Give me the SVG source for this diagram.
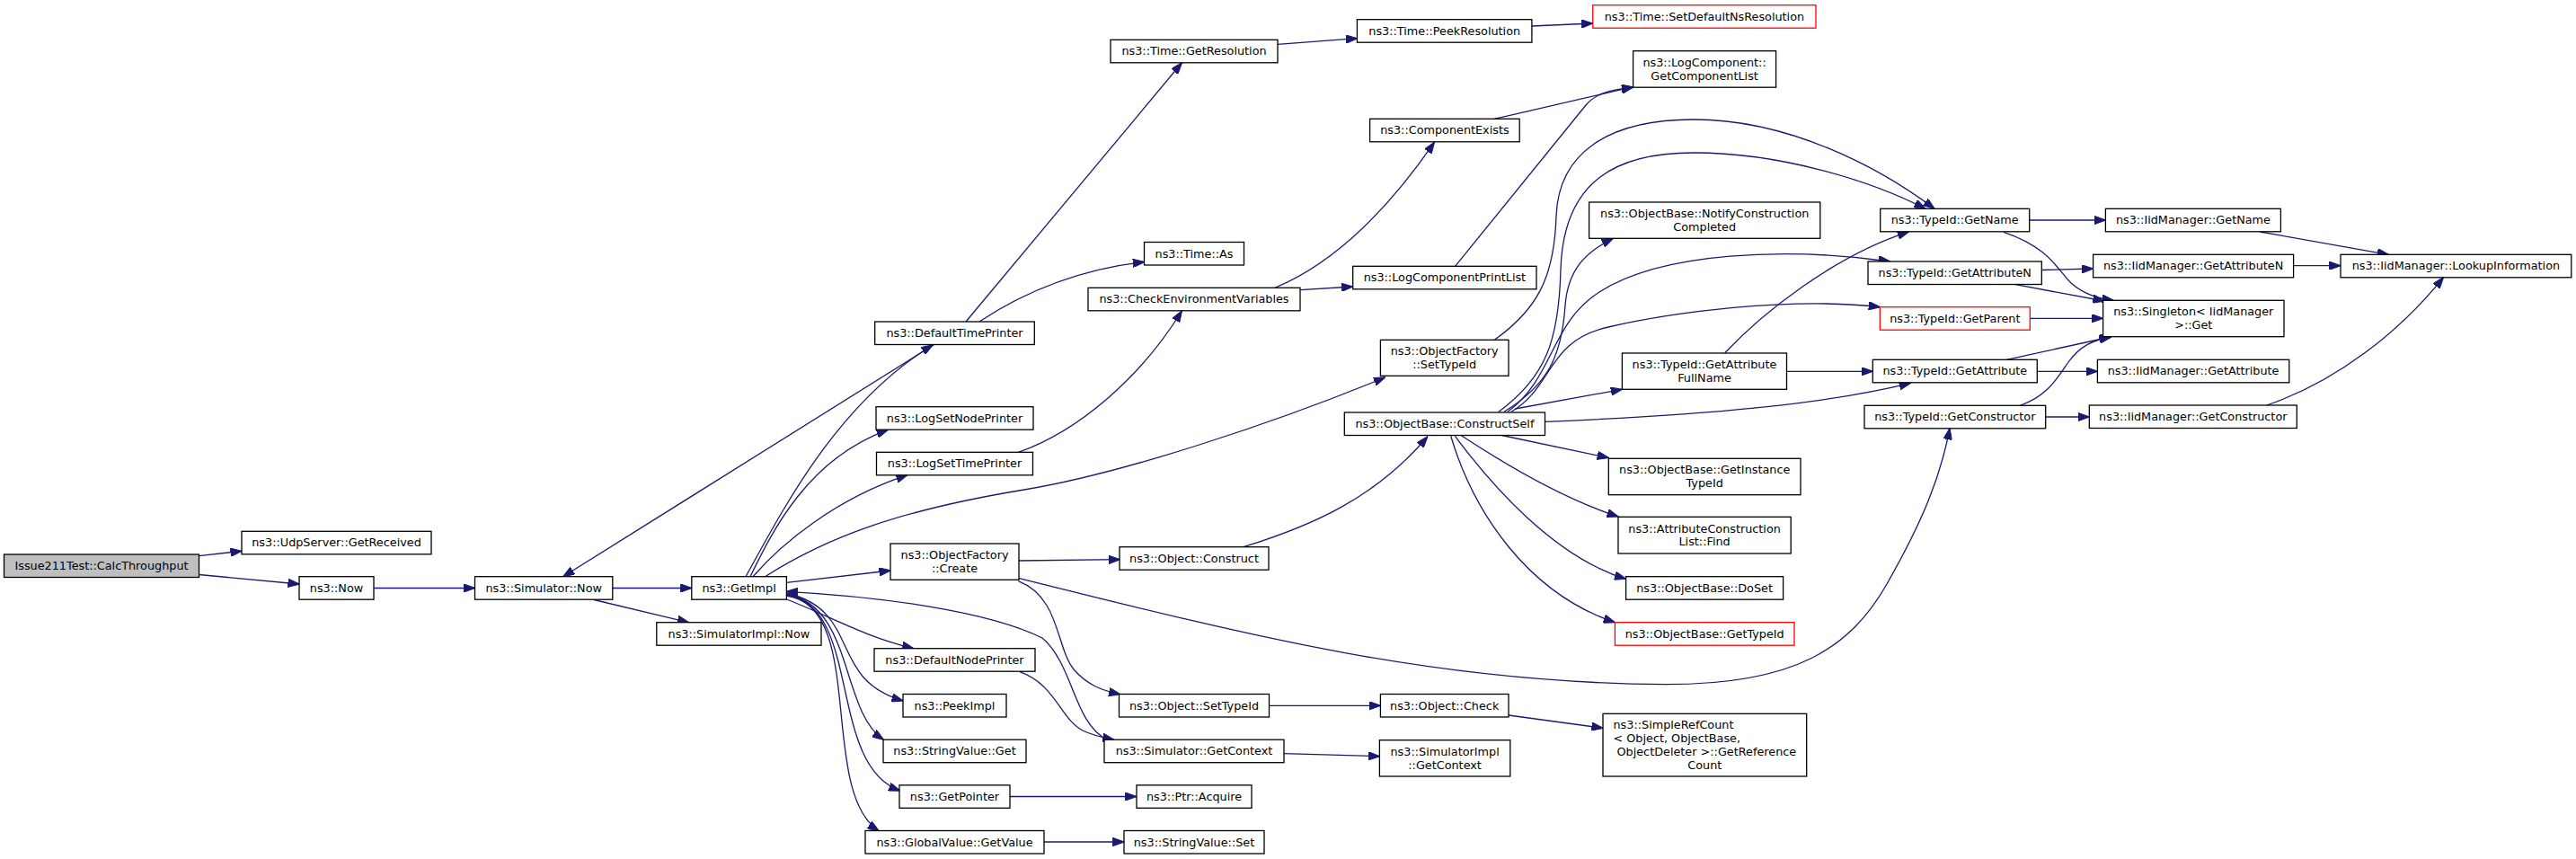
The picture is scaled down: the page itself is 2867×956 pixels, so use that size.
<svg xmlns="http://www.w3.org/2000/svg" width="2867" height="956" viewBox="0 0 2867 956">
<style>
.node rect{fill:#fff;stroke:#000;stroke-width:1.3}
.root rect{fill:#bfbfbf}
.red rect{stroke:#ff0000}
text{font-family:"DejaVu Sans","Noto Sans",sans-serif;font-size:12.8px;text-anchor:middle;fill:#000}
text.l{text-anchor:start}
.edges path{fill:none;stroke:#191970;stroke-width:1.3;marker-end:url(#arr)}
</style>
<defs>
<marker id="arr" markerUnits="userSpaceOnUse" viewBox="0 0 13 9.4" refX="12.6" refY="4.7" markerWidth="13" markerHeight="9.4" orient="auto">
<path d="M0,0L13,4.7L0,9.4z" fill="#191970" stroke="#191970" stroke-width="1"/>
</marker>
</defs>
<rect width="2867" height="956" fill="#fff"/>
<g class="edges" id="edges">
<path d="M221.3,618.7L269,613.3"/>
<path d="M221.3,639.5L333,650"/>
<path d="M416,654.5L528.5,654.5"/>
<path d="M681.8,654.5L769.8,654.5"/>
<path d="M661,667.5L766.5,692.7"/>
<path d="M1040,383.3L626.7,641.7"/>
<path d="M830,641.7C870,570 930,450 1038,384"/>
<path d="M835,641.7C860,590 900,510 988.3,478.3"/>
<path d="M838,641.7C870,605 930,555 1010,528.7"/>
<path d="M851.5,641.7C920,598 1000,568 1140,545C1250,527 1420,470 1541.6,420"/>
<path d="M875.4,648.3L991,635"/>
<path d="M875.4,667C920,684 960,708 1016.7,721.7"/>
<path d="M875.4,660C960,680 920,755 1005,780"/>
<path d="M875.4,661C950,675 935,790 983.3,823.3"/>
<path d="M875.4,662C960,675 920,850 1001.7,880"/>
<path d="M875.4,663C965,675 910,880 978.3,925"/>
<path d="M1232,823C1195,805 1195,740 1160,710C1100,680 980,664 875.4,658.3"/>
<path d="M1135,747.7C1175,762 1180,800 1205,813C1215,818 1228,821 1240,823.3"/>
<path d="M1134,624L1246.5,622.7"/>
<path d="M1133.3,646.7C1180,665 1175,720 1195,745C1210,762 1225,768 1246.7,772.7"/>
<path d="M1133.3,643.3C1400,710 1600,760 1853,761.7C2000,762 2060,720 2100,650C2140,580 2160,530 2170,476.7"/>
<path d="M1384,608.7C1460,585 1530,555 1588.8,486"/>
<path d="M1413,785.3L1536.4,785.3"/>
<path d="M1679,796L1784,810.3"/>
<path d="M1428.3,838.7L1535.4,841.7"/>
<path d="M1124,886.5L1264.7,886.5"/>
<path d="M1162,937L1251,937"/>
<path d="M1671.4,484.5L1790.3,509.5"/>
<path d="M1626.5,484.7C1680,520 1740,555 1801,575"/>
<path d="M1619.4,485.3C1660,540 1730,620 1809.6,644.3"/>
<path d="M1614.7,485.3C1640,570 1700,660 1797.4,692.7"/>
<path d="M1686.3,455L1805.4,433.3"/>
<path d="M1719.5,469.3C1900,462 2030,450 2126.4,426.3"/>
<path d="M1682,458.3C1730,430 1720,380 1790,364C1860,348 1990,330 2092.3,341.7"/>
<path d="M1678,458.3C1730,420 1725,360 1780,325C1850,280 1990,275 2103.4,291"/>
<path d="M1674,458.3C1720,430 1738,400 1742,340C1745,300 1765,280 1795.4,265.3"/>
<path d="M1668,458.3C1720,420 1735,380 1737,300C1740,200 1800,170 1885,170C1980,170 2080,200 2143,232.3"/>
<path d="M1663.3,378.3C1710,345 1730,310 1732,240C1735,170 1790,133 1885,133C1990,133 2090,185 2153,232.3"/>
<path d="M1919.7,392.7C1960,350 2040,285 2124.5,257.8"/>
<path d="M1988.6,413.3L2084.3,413.3"/>
<path d="M1418.9,320.3C1480,295 1540,240 1596.4,158.3"/>
<path d="M1447.2,322.7L1505.7,319"/>
<path d="M1663.3,132.3L1817.6,96.7"/>
<path d="M1619.3,296.7L1765,117C1775,105 1790,100 1817.6,97.2"/>
<path d="M1133.3,503.3C1200,480 1270,420 1315.3,346"/>
<path d="M1075,358L1315.3,70"/>
<path d="M1090.3,357.7C1140,325 1200,300 1273.5,291.5"/>
<path d="M1422,49.3L1510.4,42.7"/>
<path d="M1705,29L1772.8,26"/>
<path d="M2258.7,245L2343.4,245"/>
<path d="M2230,258.3C2280,275 2290,300 2305,315C2320,328 2335,332 2352,334.3"/>
<path d="M2272.3,300.5L2329.6,299"/>
<path d="M2243.3,316.7L2342,335"/>
<path d="M2259.3,354.3L2340.6,354.3"/>
<path d="M2233.3,400.3L2349,375"/>
<path d="M2267.3,413.3L2334.4,413.3"/>
<path d="M2248.3,451.3C2280,440 2290,420 2302,403C2315,385 2330,378 2350,375"/>
<path d="M2276.7,464L2325.3,464"/>
<path d="M2515.4,258L2658.3,283.3"/>
<path d="M2552.6,295.7L2605,295.7"/>
<path d="M2522.6,451C2600,425 2670,370 2719.4,308.8"/>
</g>
<g id="n_calc" class="node root"><rect x="4.5" y="617" width="217" height="25.5"/><text x="113" y="634">Issue211Test::CalcThroughput</text></g>
<g id="n_udp" class="node"><rect x="269" y="591.3" width="211" height="25.5"/><text x="374.5" y="608.3">ns3::UdpServer::GetReceived</text></g>
<g id="n_now" class="node"><rect x="333" y="641.7" width="83" height="25.5"/><text x="374.5" y="658.7">ns3::Now</text></g>
<g id="n_simnow" class="node"><rect x="528.5" y="641.7" width="153.3" height="25.5"/><text x="605.2" y="658.7">ns3::Simulator::Now</text></g>
<g id="n_getimpl" class="node"><rect x="769.8" y="641.7" width="105.6" height="25.5"/><text x="822.6" y="658.7">ns3::GetImpl</text></g>
<g id="n_simimplnow" class="node"><rect x="730.8" y="692.7" width="183.2" height="25.5"/><text x="822.4" y="709.7">ns3::SimulatorImpl::Now</text></g>
<g id="n_ofcreate" class="node"><rect x="991" y="605" width="143" height="40.3"/><text x="1062.5" y="622">ns3::ObjectFactory</text><text x="1062.5" y="636.8">::Create</text></g>
<g id="n_construct" class="node"><rect x="1246" y="608.7" width="166" height="25.5"/><text x="1329" y="625.7">ns3::Object::Construct</text></g>
<g id="n_logsettime" class="node"><rect x="975.5" y="503.3" width="174" height="25.5"/><text x="1062.5" y="520.3">ns3::LogSetTimePrinter</text></g>
<g id="n_defnode" class="node"><rect x="973" y="721.7" width="179" height="25.5"/><text x="1062.5" y="738.7">ns3::DefaultNodePrinter</text></g>
<g id="n_peek" class="node"><rect x="1005" y="772.5" width="115" height="25.5"/><text x="1062.5" y="789.5">ns3::PeekImpl</text></g>
<g id="n_svget" class="node"><rect x="983" y="823.2" width="159" height="25.5"/><text x="1062.5" y="840.2">ns3::StringValue::Get</text></g>
<g id="n_getptr" class="node"><rect x="1001" y="873.8" width="123" height="25.5"/><text x="1062.5" y="890.8">ns3::GetPointer</text></g>
<g id="n_gvget" class="node"><rect x="963" y="924.5" width="199" height="25.5"/><text x="1062.5" y="941.5">ns3::GlobalValue::GetValue</text></g>
<g id="n_objsettypeid" class="node"><rect x="1245.5" y="772.5" width="167" height="25.5"/><text x="1329" y="789.5">ns3::Object::SetTypeId</text></g>
<g id="n_simgetctx" class="node"><rect x="1229" y="823.2" width="200" height="25.5"/><text x="1329" y="840.2">ns3::Simulator::GetContext</text></g>
<g id="n_ptracq" class="node"><rect x="1265" y="873.8" width="128" height="25.5"/><text x="1329" y="890.8">ns3::Ptr::Acquire</text></g>
<g id="n_svset" class="node"><rect x="1251" y="924.5" width="156" height="25.5"/><text x="1329" y="941.5">ns3::StringValue::Set</text></g>
<g id="n_getres" class="node"><rect x="1236" y="44.3" width="186" height="25.5"/><text x="1329" y="61.3">ns3::Time::GetResolution</text></g>
<g id="n_timeas" class="node"><rect x="1273.5" y="269.5" width="111" height="25.5"/><text x="1329" y="286.5">ns3::Time::As</text></g>
<g id="n_checkenv" class="node"><rect x="1211" y="320.3" width="236" height="25.5"/><text x="1329" y="337.3">ns3::CheckEnvironmentVariables</text></g>
<g id="n_deftime" class="node"><rect x="973.7" y="358" width="177.6" height="25.5"/><text x="1062.5" y="375">ns3::DefaultTimePrinter</text></g>
<g id="n_logsetnode" class="node"><rect x="975" y="452.7" width="175" height="25.5"/><text x="1062.5" y="469.7">ns3::LogSetNodePrinter</text></g>
<g id="n_peekres" class="node"><rect x="1510.4" y="21.7" width="194.5" height="25.5"/><text x="1607.7" y="38.7">ns3::Time::PeekResolution</text></g>
<g id="n_setdefns" class="node red"><rect x="1772.8" y="5.7" width="248.2" height="25.5"/><text x="1896.9" y="22.7">ns3::Time::SetDefaultNsResolution</text></g>
<g id="n_getcomplist" class="node"><rect x="1817.6" y="56.7" width="159" height="40.5"/><text x="1897.1" y="73.8">ns3::LogComponent::</text><text x="1897.1" y="88.6">GetComponentList</text></g>
<g id="n_compexists" class="node"><rect x="1524.6" y="132.3" width="166.6" height="25.5"/><text x="1607.9" y="149.3">ns3::ComponentExists</text></g>
<g id="n_logcompprint" class="node"><rect x="1505.7" y="296.3" width="204.3" height="25.5"/><text x="1607.9" y="313.3">ns3::LogComponentPrintList</text></g>
<g id="n_notify" class="node"><rect x="1768.6" y="225" width="257.2" height="40.3"/><text x="1897.2" y="242">ns3::ObjectBase::NotifyConstruction</text><text x="1897.2" y="256.8">Completed</text></g>
<g id="n_ofsettypeid" class="node"><rect x="1536.4" y="378.3" width="142.6" height="40"/><text x="1607.7" y="395.2">ns3::ObjectFactory</text><text x="1607.7" y="410">::SetTypeId</text></g>
<g id="n_constructself" class="node"><rect x="1496.3" y="459" width="223.2" height="25.5"/><text x="1607.9" y="476">ns3::ObjectBase::ConstructSelf</text></g>
<g id="n_gafn" class="node"><rect x="1805.4" y="393" width="183.1" height="40.3"/><text x="1897" y="410">ns3::TypeId::GetAttribute</text><text x="1897" y="424.8">FullName</text></g>
<g id="n_tgetname" class="node"><rect x="2092.7" y="232.3" width="166" height="25.5"/><text x="2175.7" y="249.3">ns3::TypeId::GetName</text></g>
<g id="n_tgetattrn" class="node"><rect x="2079" y="291" width="193.3" height="25.5"/><text x="2175.7" y="308">ns3::TypeId::GetAttributeN</text></g>
<g id="n_tgetparent" class="node red"><rect x="2092.3" y="341.7" width="167" height="25.5"/><text x="2175.8" y="358.7">ns3::TypeId::GetParent</text></g>
<g id="n_tgetattr" class="node"><rect x="2084.3" y="400.3" width="183" height="25.5"/><text x="2175.8" y="417.3">ns3::TypeId::GetAttribute</text></g>
<g id="n_tgetctor" class="node"><rect x="2075" y="451.3" width="201.7" height="25.5"/><text x="2175.8" y="468.3">ns3::TypeId::GetConstructor</text></g>
<g id="n_igetname" class="node"><rect x="2343.4" y="232.3" width="195" height="25.5"/><text x="2440.9" y="249.3">ns3::IidManager::GetName</text></g>
<g id="n_igetattrn" class="node"><rect x="2329.6" y="283.3" width="223" height="25.5"/><text x="2441.1" y="300.3">ns3::IidManager::GetAttributeN</text></g>
<g id="n_lookup" class="node"><rect x="2605" y="283.3" width="256.8" height="25.5"/><text x="2733.4" y="300.3">ns3::IidManager::LookupInformation</text></g>
<g id="n_singleton" class="node"><rect x="2340.6" y="334.3" width="201.4" height="40.4"/><text x="2441.3" y="351.4">ns3::Singleton&lt; IidManager</text><text x="2441.3" y="366.2">&gt;::Get</text></g>
<g id="n_igetattr" class="node"><rect x="2334.4" y="400.3" width="213.4" height="25.5"/><text x="2441.1" y="417.3">ns3::IidManager::GetAttribute</text></g>
<g id="n_igetctor" class="node"><rect x="2325.3" y="451" width="231" height="25.5"/><text x="2440.8" y="468">ns3::IidManager::GetConstructor</text></g>
<g id="n_getinst" class="node"><rect x="1790.3" y="510.3" width="213.7" height="40.4"/><text x="1897.2" y="527.4">ns3::ObjectBase::GetInstance</text><text x="1897.2" y="542.2">TypeId</text></g>
<g id="n_acfind" class="node"><rect x="1801" y="575.3" width="192.2" height="40.7"/><text x="1897.1" y="592.5">ns3::AttributeConstruction</text><text x="1897.1" y="607.3">List::Find</text></g>
<g id="n_doset" class="node"><rect x="1809.6" y="641.7" width="175" height="25.5"/><text x="1897.1" y="658.7">ns3::ObjectBase::DoSet</text></g>
<g id="n_obgettypeid" class="node red"><rect x="1797.4" y="692.7" width="199.6" height="25.5"/><text x="1897.2" y="709.7">ns3::ObjectBase::GetTypeId</text></g>
<g id="n_objcheck" class="node"><rect x="1536.4" y="772.5" width="142.6" height="25.5"/><text x="1607.7" y="789.5">ns3::Object::Check</text></g>
<g id="n_simimplctx" class="node"><rect x="1535.4" y="823.7" width="145.4" height="40.3"/><text x="1608.1" y="840.7">ns3::SimulatorImpl</text><text x="1608.1" y="855.5">::GetContext</text></g>
<g id="n_simpleref" class="node"><rect x="1784" y="794.3" width="226.7" height="69.7"/><text class="l" x="1795.5" y="811.4">ns3::SimpleRefCount</text><text class="l" x="1795.5" y="826.1">&lt; Object, ObjectBase,</text><text class="l" x="1799.5" y="840.8">ObjectDeleter &gt;::GetReference</text><text x="1897.3" y="855.5">Count</text></g>
</svg>
